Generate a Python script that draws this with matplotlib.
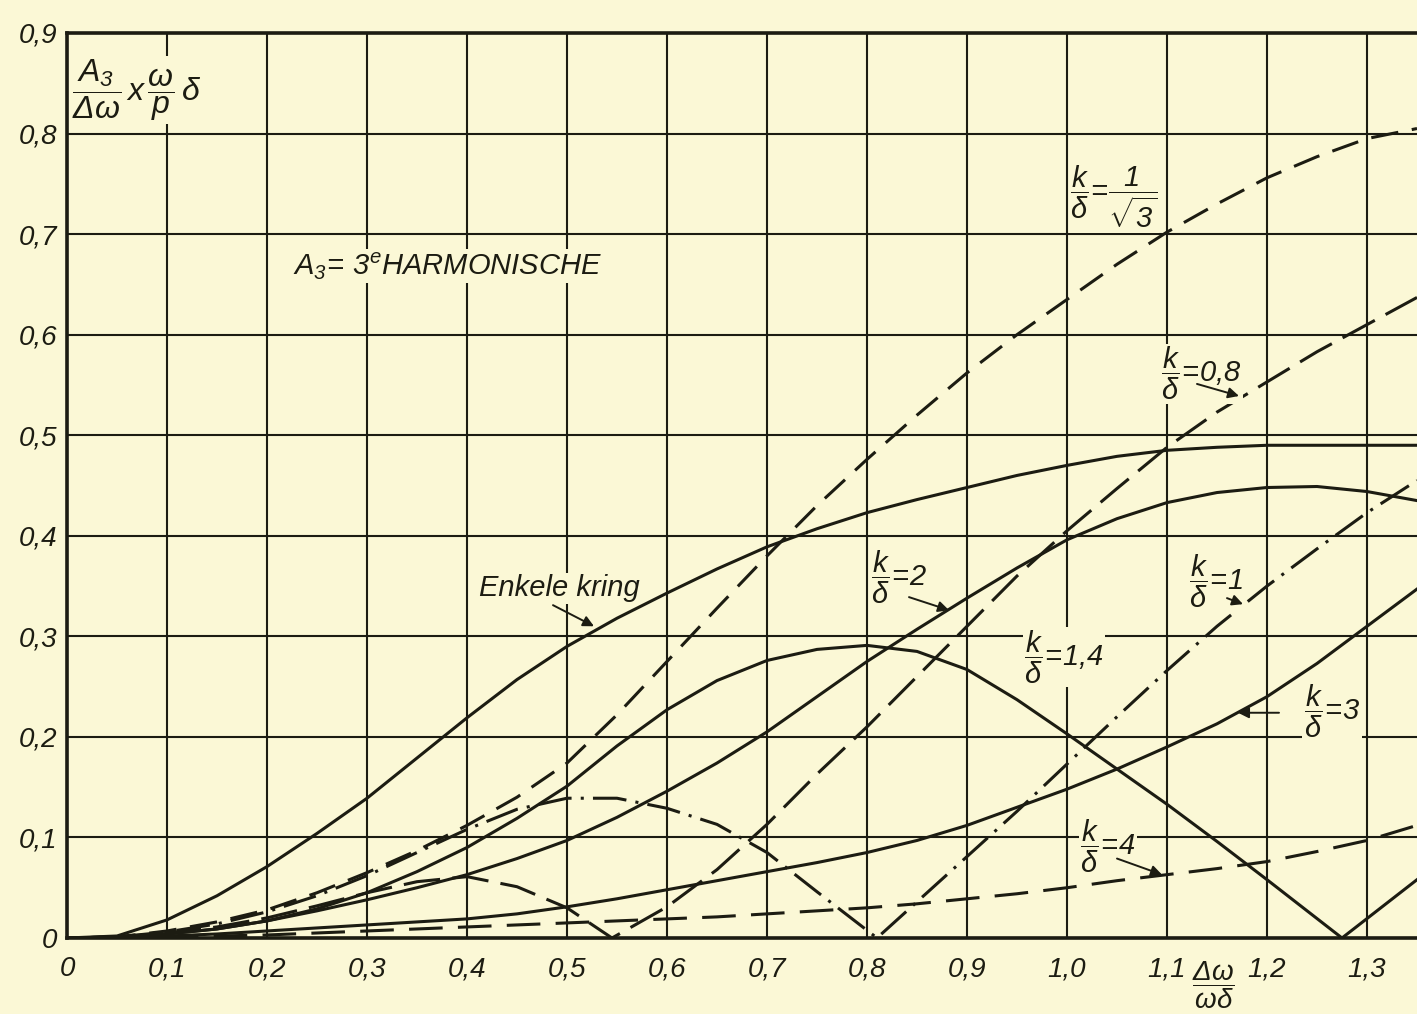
import numpy as np
import matplotlib
matplotlib.use("Agg")
import matplotlib.pyplot as plt

plt.rcParams['font.family'] = ['Liberation Sans', 'DejaVu Sans']
plt.rcParams['font.style'] = 'italic'
plt.rcParams['mathtext.fontset'] = 'custom'
plt.rcParams['mathtext.it'] = 'Liberation Sans:italic'
plt.rcParams['mathtext.rm'] = 'Liberation Sans:italic'
plt.rcParams['mathtext.sf'] = 'Liberation Sans:italic'

# --- data -------------------------------------------------------------
X = [0.00, 0.05, 0.10, 0.15, 0.20, 0.25, 0.30, 0.35, 0.40, 0.45, 0.50, 0.55,
     0.60, 0.65, 0.70, 0.75, 0.80, 0.85, 0.90, 0.95, 1.00, 1.05, 1.10, 1.15,
     1.20, 1.25, 1.30, 1.35]

enkele_kring = [0.000, 0.002, 0.018, 0.042, 0.071, 0.104, 0.139, 0.179, 0.219,
                0.257, 0.290, 0.318, 0.343, 0.367, 0.389, 0.407, 0.423, 0.436,
                0.448, 0.460, 0.470, 0.479, 0.485, 0.488, 0.490, 0.490, 0.490,
                0.490]

k_inv_sqrt3 = [0.000, 0.001, 0.007, 0.016, 0.028, 0.045, 0.065, 0.087, 0.112,
               0.140, 0.174, 0.222, 0.275, 0.328, 0.380, 0.430, 0.476, 0.520,
               0.562, 0.600, 0.635, 0.670, 0.702, 0.730, 0.756, 0.777, 0.795,
               0.805]

k_2 = [0.000, 0.001, 0.004, 0.009, 0.017, 0.027, 0.038, 0.050, 0.063, 0.079,
       0.097, 0.120, 0.146, 0.174, 0.205, 0.240, 0.275, 0.307, 0.338, 0.368,
       0.396, 0.417, 0.433, 0.443, 0.448, 0.449, 0.444, 0.435]

k_3 = [0.000, 0.000, 0.002, 0.004, 0.007, 0.010, 0.013, 0.016, 0.019, 0.024,
       0.031, 0.039, 0.048, 0.057, 0.066, 0.075, 0.085, 0.097, 0.112, 0.130,
       0.148, 0.168, 0.190, 0.213, 0.240, 0.273, 0.310, 0.347]

k_4 = [0.000, 0.000, 0.001, 0.002, 0.003, 0.005, 0.007, 0.009, 0.011, 0.013,
       0.015, 0.017, 0.019, 0.021, 0.024, 0.027, 0.030, 0.034, 0.039, 0.044,
       0.050, 0.057, 0.063, 0.069, 0.076, 0.086, 0.097, 0.112]

x_k08 = [0.00, 0.05, 0.10, 0.15, 0.20, 0.25, 0.30, 0.35, 0.40, 0.45, 0.50, 0.545,
         0.60, 0.65, 0.70, 0.75, 0.80, 0.85, 0.90, 0.95, 1.00, 1.05, 1.10, 1.15,
         1.20, 1.25, 1.30, 1.35]
k_08 = [0.000, 0.001, 0.005, 0.011, 0.020, 0.032, 0.045, 0.056, 0.061, 0.051,
        0.030, 0.000, 0.031, 0.068, 0.113, 0.163, 0.210, 0.260, 0.310, 0.360,
        0.405, 0.447, 0.488, 0.523, 0.553, 0.583, 0.610, 0.637]

x_k1 = [0.00, 0.05, 0.10, 0.15, 0.20, 0.25, 0.30, 0.35, 0.40, 0.45, 0.50, 0.55,
        0.60, 0.65, 0.70, 0.75, 0.81, 0.85, 0.90, 0.95, 1.00, 1.05, 1.10, 1.15,
        1.20, 1.25, 1.30, 1.35]
k_1 = [0.000, 0.001, 0.006, 0.014, 0.026, 0.042, 0.062, 0.085, 0.108, 0.128,
       0.139, 0.139, 0.129, 0.113, 0.085, 0.046, 0.000, 0.036, 0.081, 0.126,
       0.173, 0.220, 0.266, 0.310, 0.350, 0.387, 0.423, 0.455]

x_k14 = [0.00, 0.05, 0.10, 0.15, 0.20, 0.25, 0.30, 0.35, 0.40, 0.45, 0.50, 0.55,
         0.60, 0.65, 0.70, 0.75, 0.80, 0.85, 0.90, 0.95, 1.00, 1.05, 1.10, 1.15,
         1.20, 1.275, 1.35]
k_14 = [0.000, 0.001, 0.004, 0.009, 0.017, 0.029, 0.045, 0.066, 0.090, 0.119,
        0.151, 0.191, 0.227, 0.256, 0.276, 0.287, 0.291, 0.285, 0.267, 0.237,
        0.203, 0.168, 0.133, 0.096, 0.058, 0.000, 0.058]

x_ticks = [0.0, 0.1, 0.2, 0.3, 0.4, 0.5, 0.6, 0.7, 0.8, 0.9, 1.0, 1.1, 1.2, 1.3]
x_tick_labels = ['0', '0,1', '0,2', '0,3', '0,4', '0,5', '0,6', '0,7', '0,8',
                 '0,9', '1,0', '1,1', '1,2', '1,3']
y_ticks = [0.0, 0.1, 0.2, 0.3, 0.4, 0.5, 0.6, 0.7, 0.8, 0.9]
y_tick_labels = ['0', '0,1', '0,2', '0,3', '0,4', '0,5', '0,6', '0,7', '0,8', '0,9']

# --- figure -----------------------------------------------------------
paper = '#fbf8d6'
ink = '#1c1c12'

fig = plt.figure(figsize=(14.17, 10.14), dpi=100)
fig.patch.set_facecolor(paper)
ax = fig.add_axes([67 / 1417, 76 / 1014, 1 - 67 / 1417, (938 - 33) / 1014])
ax.set_facecolor(paper)
ax.set_xlim(0, 1.35)
ax.set_ylim(0, 0.9)

ax.set_xticks(x_ticks)
ax.set_xticklabels(x_tick_labels)
ax.set_yticks(y_ticks)
ax.set_yticklabels(y_tick_labels)
ax.tick_params(length=0, labelsize=20, colors=ink)
ax.tick_params(axis='x', pad=13)
ax.tick_params(axis='y', pad=7)
ax.grid(True, color=ink, lw=1.5)
ax.set_axisbelow(True)

for side in ('left', 'bottom', 'top'):
    ax.spines[side].set_linewidth(2.6)
    ax.spines[side].set_color(ink)
ax.spines['right'].set_visible(False)

lw = 2.2
ax.plot(X, enkele_kring, color=ink, lw=lw)
ax.plot(X, k_2, color=ink, lw=lw)
ax.plot(X, k_3, color=ink, lw=lw)
ax.plot(x_k14, k_14, color=ink, lw=lw)
ax.plot(X, k_inv_sqrt3, color=ink, lw=lw, dashes=(9, 4.5))
ax.plot(x_k08, k_08, color=ink, lw=lw, dashes=(12, 4))
ax.plot(X, k_4, color=ink, lw=lw, dashes=(11, 5))
ax.plot(x_k1, k_1, color=ink, lw=lw, dashes=(11, 3, 1, 3))

box = dict(facecolor=paper, edgecolor='none', pad=1.0)
arrow = dict(arrowstyle='-|>', color=ink, lw=1.4, mutation_scale=16,
             shrinkA=0, shrinkB=0)


def label(x, y, s, size=19):
    ax.text(x, y, s, fontsize=size, color=ink, ha='center', va='center',
            bbox=box, zorder=3)


# axis titles
ax.text(0.005, 0.843,
        r'$\dfrac{A_3}{\Delta\omega}\,x\,\dfrac{\omega}{p}\,\delta$',
        fontsize=23, color=ink, ha='left', va='center', bbox=box, zorder=3)
ax.text(1.146, -0.047, r'$\dfrac{\Delta\omega}{\omega\delta}$', fontsize=20,
        color=ink, ha='center', va='center', clip_on=False)
ax.text(0.226, 0.668, r'$A_3\!=\,3^e$' + 'HARMONISCHE', fontsize=21, color=ink,
        ha='left', va='center', bbox=box, zorder=3)

# curve labels
label(0.492, 0.348, 'Enkele kring', size=21)
ax.annotate('', xy=(0.527, 0.31), xytext=(0.486, 0.331), arrowprops=arrow)

label(1.047, 0.736, r'$\dfrac{k}{\delta}\!=\!\dfrac{1}{\sqrt{3}}$', size=21)
label(1.134, 0.561, r'$\dfrac{k}{\delta}\!=\!0{,}8$', size=21)
ax.annotate('', xy=(1.172, 0.539), xytext=(1.130, 0.551), arrowprops=arrow)

label(0.832, 0.359, r'$\dfrac{k}{\delta}\!=\!2$', size=21)
ax.annotate('', xy=(0.882, 0.326), xytext=(0.842, 0.339), arrowprops=arrow)

label(0.997, 0.279, r'$\dfrac{k}{\delta}\!=\!1{,}4$', size=21)

label(1.149, 0.355, r'$\dfrac{k}{\delta}\!=\!1$', size=21)
ax.annotate('', xy=(1.176, 0.332), xytext=(1.160, 0.338), arrowprops=arrow)

label(1.265, 0.225, r'$\dfrac{k}{\delta}\!=\!3$', size=21)
ax.annotate('', xy=(1.171, 0.224), xytext=(1.212, 0.224), arrowprops=arrow)

label(1.041, 0.091, r'$\dfrac{k}{\delta}\!=\!4$', size=21)
ax.annotate('', xy=(1.095, 0.063), xytext=(1.050, 0.079), arrowprops=arrow)

fig.savefig('out.png', dpi=100, facecolor=paper)
